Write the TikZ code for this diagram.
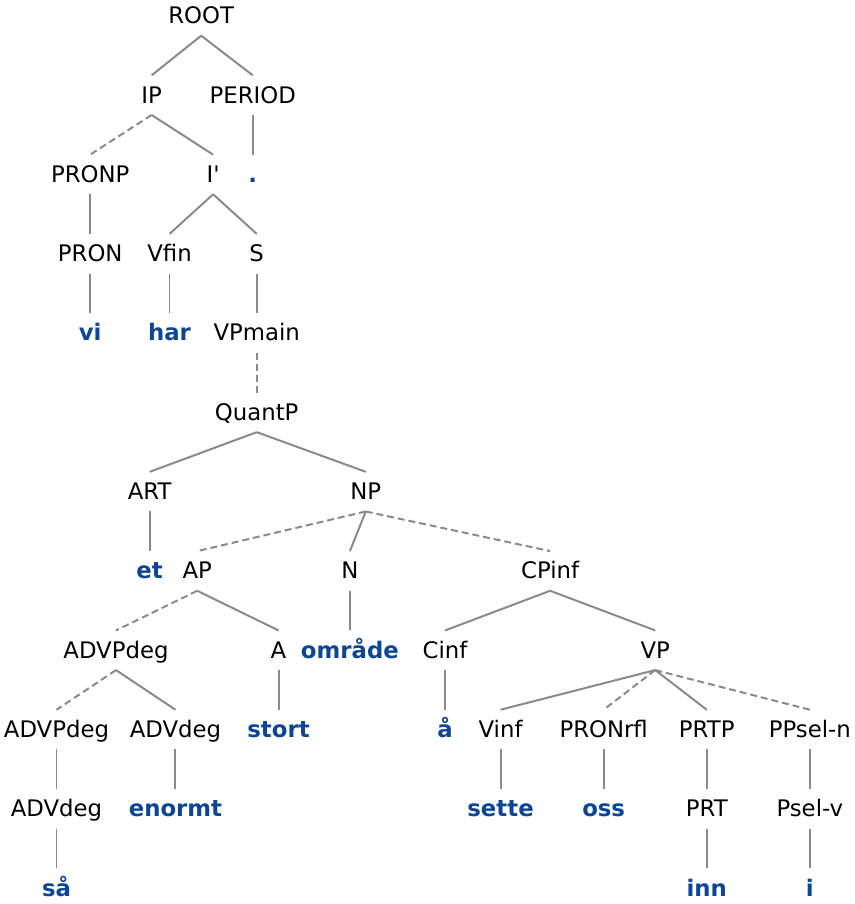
\documentclass[tikz,border=0pt]{standalone}
\usepackage{fontspec}
\setmainfont{DejaVu Sans}
\definecolor{wordblue}{RGB}{14,70,150}
\definecolor{edgegray}{RGB}{138,138,138}
\tikzset{
  cat/.style={font=\fontsize{23}{26}\selectfont, text height=24pt, text depth=8pt,
    inner sep=0pt, outer xsep=0pt, outer ysep=4pt},
  word/.style={cat, font=\fontsize{23}{26}\selectfont\bfseries, text=wordblue},
  edge/.style={draw=edgegray, line width=2pt},
  trace/.style={edge, dash pattern=on 7pt off 4pt}
}
\begin{document}
\begin{tikzpicture}[x=1pt,y=-1pt]
  \fill[white] (0,0) rectangle (862,904);
  % categories
  \node[cat] (root) at (203,12) {ROOT};
  \node[cat] (ip) at (153,92) {IP};
  \node[cat] (period) at (255,92) {PERIOD};
  \node[cat] (pronp) at (91,172) {PRONP};
  \node[cat] (ibar) at (215,172) {I\textquotesingle};
  \node[word] (dot) at (255,172) {.};
  \node[cat] (pron) at (91,252) {PRON};
  \node[cat] (vfin) at (171,252) {Vfin};
  \node[cat] (s) at (259,252) {S};
  \node[word] (vi) at (91,332) {vi};
  \node[word] (har) at (171,332) {har};
  \node[cat] (vpmain) at (259,332) {VPmain};
  \node[cat] (quantp) at (259,412) {QuantP};
  \node[cat] (art) at (151,492) {ART};
  \node[cat] (np) at (369,492) {NP};
  \node[word] (et) at (151,572) {et};
  \node[cat] (ap) at (199,572) {AP};
  \node[cat] (n) at (353,572) {N};
  \node[cat] (cpinf) at (555,572) {CPinf};
  \node[cat] (advpdeg) at (117,652) {ADVPdeg};
  \node[cat] (a) at (281,652) {A};
  \node[word] (omraade) at (353,652) {område};
  \node[cat] (cinf) at (449,652) {Cinf};
  \node[cat] (vp) at (661,652) {VP};
  \node[cat] (advpdegb) at (57,732) {ADVPdeg};
  \node[cat] (advdeg) at (177,732) {ADVdeg};
  \node[word] (stort) at (281,732) {stort};
  \node[word] (aa) at (449,732) {å};
  \node[cat] (vinf) at (505,732) {Vinf};
  \node[cat] (pronrfl) at (609,732) {PRONrfl};
  \node[cat] (prtp) at (713,732) {PRTP};
  \node[cat] (ppseln) at (817,732) {PPsel-n};
  \node[cat] (advdegb) at (57,812) {ADVdeg};
  \node[word] (enormt) at (177,812) {enormt};
  \node[word] (sette) at (505,812) {sette};
  \node[word] (oss) at (609,812) {oss};
  \node[cat] (prt) at (713,812) {PRT};
  \node[cat] (pselv) at (817,812) {Psel-v};
  \node[word] (saa) at (57,892) {så};
  \node[word] (inn) at (713,892) {inn};
  \node[word] (i) at (817,892) {i};
  % branches
  \foreach \p/\c in {root/ip, root/period, ip/ibar, period/dot, pronp/pron, ibar/vfin,
      ibar/s, pron/vi, vfin/har, s/vpmain, quantp/art, quantp/np, art/et, np/n,
      ap/a, n/omraade, cpinf/cinf, cpinf/vp, advpdeg/advdeg, a/stort, cinf/aa,
      vp/vinf, vp/prtp, advpdegb/advdegb, advdeg/enormt, vinf/sette, pronrfl/oss,
      prtp/prt, ppseln/pselv, advdegb/saa, prt/inn, pselv/i}
    \draw[edge] (\p.south) -- (\c.north);
  \foreach \p/\c in {ip/pronp, vpmain/quantp, np/ap, np/cpinf, ap/advpdeg,
      advpdeg/advpdegb, vp/pronrfl, vp/ppseln}
    \draw[trace] (\p.south) -- (\c.north);
\end{tikzpicture}
\end{document}
